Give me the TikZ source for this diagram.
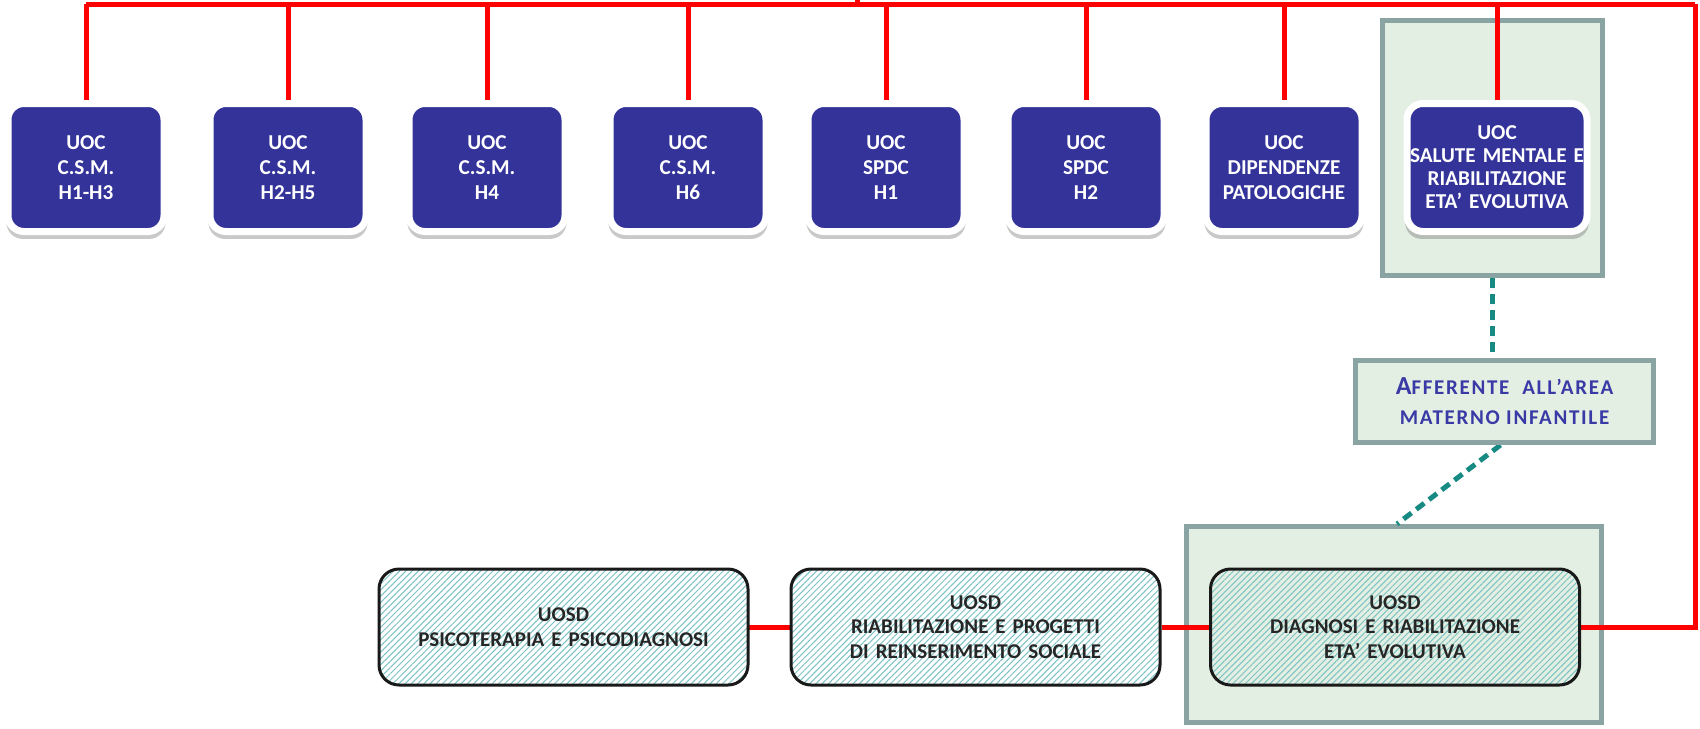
\documentclass[tikz,border=0pt]{standalone}
\usepackage{fontspec}
\setmainfont{Carlito}
\usepackage{xcolor}
\usepackage{tikz}
\usetikzlibrary{shapes,shadows,arrows,calc,patterns.meta}

\definecolor{uocblue}{HTML}{333399}
\definecolor{linkred}{HTML}{FF0000}
\definecolor{areafill}{HTML}{E4EFE3}
\definecolor{areaedge}{HTML}{8AA3A3}
\definecolor{dashteal}{HTML}{178A83}
\definecolor{hatchcol}{HTML}{7CC2C4}
\definecolor{afftext}{HTML}{3A3AA6}

\newcommand{\tightsp}{\spaceskip=0.18em\relax}

\pgfdeclarelayer{bg}
\pgfdeclarelayer{wires}
\pgfsetlayers{bg,wires,main}

\tikzset{
    uoc/.style={draw=white, line width=3.5pt, fill=uocblue, rounded corners=8pt,
        minimum width=78pt, minimum height=64pt, inner sep=0pt, text width=76pt, align=center,
        text=white, font=\fontsize{10.6}{12.5}\selectfont\bfseries\tightsp,
        drop shadow={shadow xshift=0pt, shadow yshift=-3pt, shadow scale=1.02, opacity=0.3, fill=black!70}},
    uosd/.style={draw=black!90, line width=1.5pt, rounded corners=10pt, preaction={fill=white},
        pattern={Lines[angle=45,distance=2.2pt,line width=0.5pt]}, pattern color=hatchcol,
        minimum width=184.5pt, minimum height=58pt, inner sep=0pt, text width=180pt, align=center,
        text=black!85, font=\fontsize{10.5}{12.25}\selectfont\bfseries\tightsp},
    area/.style={draw=areaedge, line width=2.5pt, fill=areafill, inner sep=0pt},
    link/.style={linkred, line width=2.5pt},
    dlink/.style={dashteal, line width=2.5pt, dash pattern=on 5pt off 3pt}
}

\begin{document}
\begin{tikzpicture}[x=0.5pt, y=-0.5pt]
    \useasboundingbox (0,0) rectangle (1700,728);

    % UOC row
    \foreach \i/\x/\txt in {1/86/{UOC\\C.S.M.\\H1-H3}, 2/288/{UOC\\C.S.M.\\H2-H5},
        3/487/{UOC\\C.S.M.\\H4}, 4/688/{UOC\\C.S.M.\\H6}, 5/886/{UOC\\SPDC\\H1},
        6/1086/{UOC\\SPDC\\H2}, 7/1284/{UOC\\DIPENDENZE\\PATOLOGICHE}} {
        \node[uoc] (b\i) at (\x,167.5) {\txt};
    }
    \node[uoc, minimum width=86pt, text width=90pt, font=\fontsize{10.6}{11.5}\selectfont\bfseries\tightsp]
        (b8) at (1497,167.5) {UOC\\SALUTE MENTALE E\\RIABILITAZIONE\\ETA’ EVOLUTIVA};

    % UOSD row
    \node[uosd] (psico) at (563.5,627) {UOSD\\PSICOTERAPIA E PSICODIAGNOSI};
    \node[uosd] (riab) at (975.5,627) {UOSD\\RIABILITAZIONE E PROGETTI\\DI REINSERIMENTO SOCIALE};
    \node[uosd, preaction={fill=areafill}] (diag) at (1395,627) {UOSD\\DIAGNOSI E RIABILITAZIONE\\ETA’ EVOLUTIVA};

    % area boxes
    \begin{pgfonlayer}{bg}
        \node[area, minimum width=110pt, minimum height=127.5pt] (salgrp) at (1492.5,148) {};
        \node[area, minimum width=207.5pt, minimum height=98pt] (diagrp) at (1394,624.5) {};
    \end{pgfonlayer}
    \node[area, minimum width=149pt, minimum height=41pt, text=afftext, align=center,
        font=\fontsize{10.5}{15}\selectfont\bfseries\addfontfeature{LetterSpace=8}] (aff) at (1504.5,401.5)
        {{\fontsize{13}{15}\selectfont A}FFERENTE\ \ ALL’AREA\\MATERNO INFANTILE};

    % connectors
    \begin{pgfonlayer}{wires}
        \coordinate (topL) at (86,4);
        \coordinate (topR) at (1695,4);
        \coordinate (up) at (857,0);
        \draw[link] (topL) -- (topR);
        \draw[link] (up) -- (up |- topL);
        \foreach \i in {1,...,8} {
            \draw[link] (b\i.north) -- (b\i.north |- topL);
        }
        \draw[link] (psico) -- (riab);
        \draw[link] (riab) -- (diag);
        \draw[link] (diag.east) -| (topR);
        \draw[dlink] (salgrp.south) -- (salgrp.south |- aff.north);
        \draw[dlink] ([xshift=-2pt]aff.south) -- ([xshift=1.5pt]diagrp.north);
    \end{pgfonlayer}

\end{tikzpicture}
\end{document}
